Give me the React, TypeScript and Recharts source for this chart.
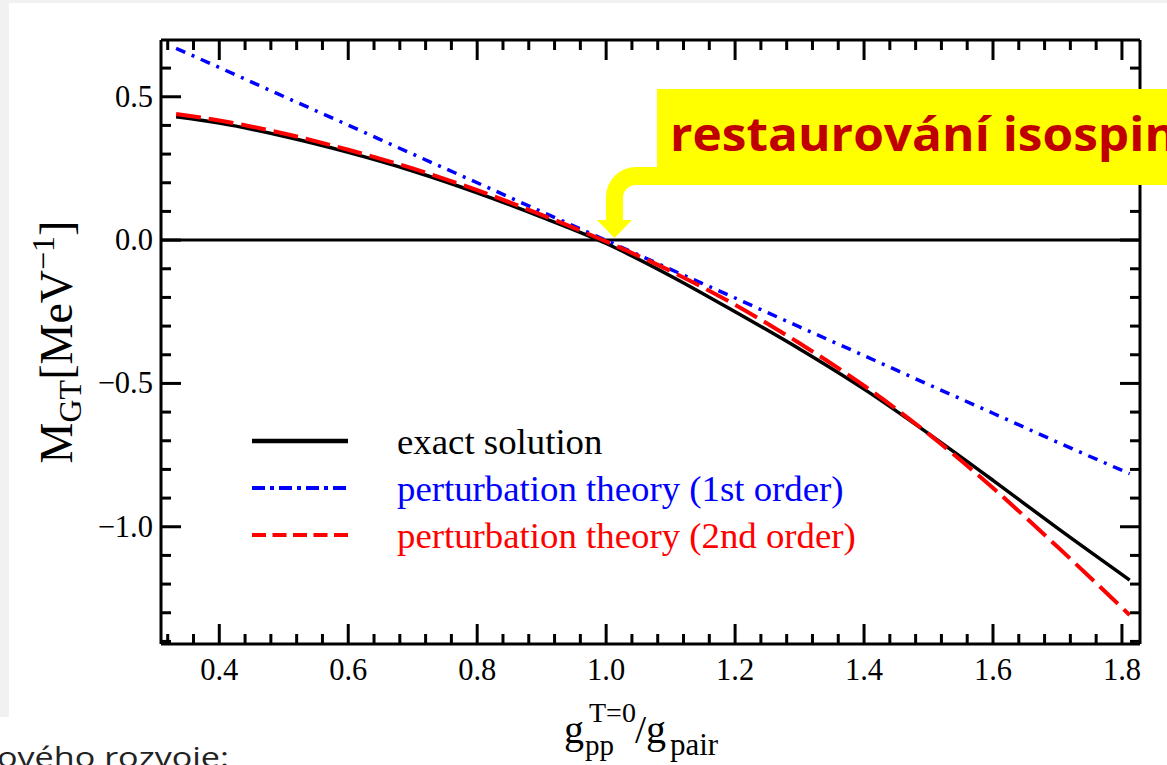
import React from 'react';
import { LineChart, Line, XAxis, YAxis, ReferenceLine, Legend } from 'recharts';

// ---- data ----
const xValues = [0.333, 0.4, 0.5, 0.6, 0.7, 0.8, 0.9, 1.0, 1.1, 1.2, 1.3, 1.4, 1.5, 1.6, 1.7, 1.812];
const exactSolution = [0.430, 0.408, 0.362, 0.306, 0.241, 0.165, 0.080, -0.012, -0.125, -0.250, -0.380, -0.520, -0.675, -0.838, -1.005, -1.186];
const firstOrder = [0.669, 0.602, 0.501, 0.401, 0.300, 0.200, 0.099, -0.001, -0.102, -0.202, -0.303, -0.403, -0.504, -0.604, -0.705, -0.815];
const secondOrder = [0.440, 0.417, 0.372, 0.315, 0.250, 0.174, 0.088, -0.005, -0.108, -0.226, -0.360, -0.508, -0.676, -0.865, -1.070, -1.308];

const seriesNames = ['exact solution', 'perturbation theory (1st order)', 'perturbation theory (2nd order)'];

const xMajorTicks = [0.4, 0.6, 0.8, 1.0, 1.2, 1.4, 1.6, 1.8];
const xMinorTicks = [0.32, 0.36, 0.44, 0.48, 0.52, 0.56, 0.64, 0.68, 0.72, 0.76, 0.84, 0.88, 0.92, 0.96,
  1.04, 1.08, 1.12, 1.16, 1.24, 1.28, 1.32, 1.36, 1.44, 1.48, 1.52, 1.56, 1.64, 1.68, 1.72, 1.76];
const yMajorTicks = [-1.0, -0.5, 0.0, 0.5];
const yMinorTicks = [-1.4, -1.3, -1.2, -1.1, -0.9, -0.8, -0.7, -0.6, -0.4, -0.3, -0.2, -0.1, 0.1, 0.2, 0.3, 0.4, 0.6];

const xDomain = [0.3096, 1.828];
const yDomain = [-1.409, 0.698];

const annotationText = 'restaurování isospin';
const footerText = 'ového rozvoje:';

const rows = xValues.map((x, i) => ({
  x,
  exact: exactSolution[i],
  first: firstOrder[i],
  second: secondOrder[i],
}));

const xTicks = [...xMajorTicks, ...xMinorTicks].sort((a, b) => a - b);
const yTicks = [...yMajorTicks, ...yMinorTicks].sort((a, b) => a - b);

const SERIF = "'Liberation Serif', 'Times New Roman', serif";
const isMajor = (list: number[], v: number) => list.some((t) => Math.abs(t - v) < 1e-6);
const fmt = (v: number) => (v < 0 ? '\u2212' + Math.abs(v).toFixed(1) : v.toFixed(1));

const MAJOR = 20;
const MINOR = 10;
const TW = 3;

const BottomTick = (props: any) => {
  const { x, y, payload } = props;
  const major = isMajor(xMajorTicks, payload.value);
  return (
    <g>
      <line x1={x} y1={y} x2={x} y2={y - (major ? MAJOR : MINOR)} stroke="#000" strokeWidth={TW} />
      {major && (
        <text x={x} y={y + 36} textAnchor="middle" fontFamily={SERIF} fontSize={30.5} fill="#000">
          {payload.value.toFixed(1)}
        </text>
      )}
    </g>
  );
};

const TopTick = (props: any) => {
  const { x, y, payload } = props;
  const major = isMajor(xMajorTicks, payload.value);
  return <line x1={x} y1={y} x2={x} y2={y + (major ? MAJOR : MINOR)} stroke="#000" strokeWidth={TW} />;
};

const LeftTick = (props: any) => {
  const { x, y, payload } = props;
  const major = isMajor(yMajorTicks, payload.value);
  return (
    <g>
      <line x1={x} y1={y} x2={x + (major ? MAJOR : MINOR)} y2={y} stroke="#000" strokeWidth={TW} />
      {major && (
        <text x={x - 8} y={y + 10} textAnchor="end" fontFamily={SERIF} fontSize={30.5} fill="#000">
          {fmt(payload.value)}
        </text>
      )}
    </g>
  );
};

const RightTick = (props: any) => {
  const { x, y, payload } = props;
  const major = isMajor(yMajorTicks, payload.value);
  return <line x1={x} y1={y} x2={x - (major ? MAJOR : MINOR)} y2={y} stroke="#000" strokeWidth={TW} />;
};

const XTitle = () => (
  <text fontFamily={SERIF} fill="#000">
    <tspan x={564} y={743} fontSize={40}>g</tspan>
    <tspan x={585} y={755} fontSize={29}>pp</tspan>
    <tspan x={589} y={722} fontSize={28}>T=0</tspan>
    <tspan x={635} y={743} fontSize={40}>/g</tspan>
    <tspan x={670} y={755} fontSize={31}>pair</tspan>
  </text>
);

const YTitle = () => (
  <text transform="translate(72, 342) rotate(-90)" textAnchor="middle" fontFamily={SERIF} fill="#000">
    <tspan fontSize={46}>M</tspan>
    <tspan fontSize={32} dy={9}>GT</tspan>
    <tspan fontSize={46} dy={-9}>[MeV</tspan>
    <tspan fontSize={32} dy={-18}>{'\u22121'}</tspan>
    <tspan fontSize={46} dy={18}>]</tspan>
  </text>
);

const legendStyles = [
  { color: '#000000', dash: undefined as string | undefined, width: 4.5 },
  { color: '#0000ff', dash: '13 5 4 5', width: 4 },
  { color: '#ff0000', dash: '14 6.5', width: 4 },
];

const LegendContent = () => (
  <svg width={660} height={140} style={{ display: 'block' }}>
    {seriesNames.map((name, i) => {
      const cy = 21 + i * 47;
      return (
        <g key={name}>
          <line x1={12} y1={cy} x2={108} y2={cy} stroke={legendStyles[i].color}
            strokeWidth={legendStyles[i].width} strokeDasharray={legendStyles[i].dash} />
          <text x={157} y={cy + 13} fontFamily={SERIF} fontSize={36.8} fill={legendStyles[i].color}>{name}</text>
        </g>
      );
    })}
  </svg>
);

export default function App() {
  return (
    <div style={{ position: 'absolute', left: 0, top: 0, width: 1167, height: 765, background: '#fff', overflow: 'hidden' }}>
      <div style={{ position: 'absolute', left: 0, top: 0, width: 9, height: 717, background: '#f1f1f1' }} />
      <div style={{ position: 'absolute', left: 0, top: 0, width: 1167, height: 3, background: '#f1f1f1' }} />
      <div style={{ position: 'absolute', left: 0, top: 0 }}>
        <LineChart width={1167} height={765} data={rows}
          margin={{ top: 40, right: 27, bottom: 61, left: 101 }}>
          <XAxis xAxisId={0} dataKey="x" type="number" domain={xDomain} allowDataOverflow
            ticks={xTicks} interval={0} tickSize={0} tickMargin={0} tickLine={false}
            tick={<BottomTick />} height={60}
            axisLine={{ stroke: '#000', strokeWidth: 3 }}
            label={(p: any) => <XTitle />} />
          <XAxis xAxisId="top" orientation="top" mirror dataKey="x" type="number" domain={xDomain} allowDataOverflow
            ticks={xTicks} interval={0} tickSize={0} tickMargin={0} tickLine={false}
            tick={<TopTick />} axisLine={{ stroke: '#000', strokeWidth: 3 }} />
          <YAxis yAxisId={0} type="number" domain={yDomain} allowDataOverflow width={60}
            ticks={yTicks} interval={0} tickSize={0} tickMargin={0} tickLine={false}
            tick={<LeftTick />} axisLine={{ stroke: '#000', strokeWidth: 3 }}
            label={(p: any) => <YTitle />} />
          <YAxis yAxisId="right" orientation="right" mirror type="number" domain={yDomain} allowDataOverflow
            ticks={yTicks} interval={0} tickSize={0} tickMargin={0} tickLine={false}
            tick={<RightTick />} axisLine={{ stroke: '#000', strokeWidth: 3 }} />
          <ReferenceLine y={0} stroke="#000" strokeWidth={3} ifOverflow="hidden" />
          <Line dataKey="first" name={seriesNames[1]} type="monotone" stroke="#0000ff" strokeWidth={3.5}
            strokeDasharray="10 7 3 7" dot={false} activeDot={false} isAnimationActive={false} />
          <Line dataKey="exact" name={seriesNames[0]} type="monotone" stroke="#000000" strokeWidth={3.5}
            dot={false} activeDot={false} isAnimationActive={false} />
          <Line dataKey="second" name={seriesNames[2]} type="monotone" stroke="#ff0000" strokeWidth={4}
            strokeDasharray="25 8" dot={false} activeDot={false} isAnimationActive={false} />
          <Legend layout="vertical" align="center" verticalAlign="middle"
            wrapperStyle={{ left: 240, top: 420, width: 660, height: 140 }}
            content={() => <LegendContent />} />
        </LineChart>
      </div>
      <svg width={1167} height={765} style={{ position: 'absolute', left: 0, top: 0, pointerEvents: 'none' }}>
        <rect x={657} y={89} width={600} height={96} fill="#ffff00" />
        <path d="M 660 167 L 636 167 A 30 30 0 0 0 606 197 L 606 220 L 597 220 L 614.5 238 L 632 220 L 623 220 L 623 198 A 13 13 0 0 1 636 185 L 660 185 Z"
          fill="#ffff00" />
        <text x={670} y={151} fontFamily="'Open Sans', 'Noto Sans', sans-serif" fontWeight={700} fontSize={46}
          fill="#c00000" textLength={507} lengthAdjust="spacingAndGlyphs">{annotationText}</text>
        <text x={-3} y={767} fontFamily="'Open Sans', 'Noto Sans', sans-serif" fontSize={27}
          fill="#222" textLength={232} lengthAdjust="spacingAndGlyphs">{footerText}</text>
      </svg>
    </div>
  );
}
